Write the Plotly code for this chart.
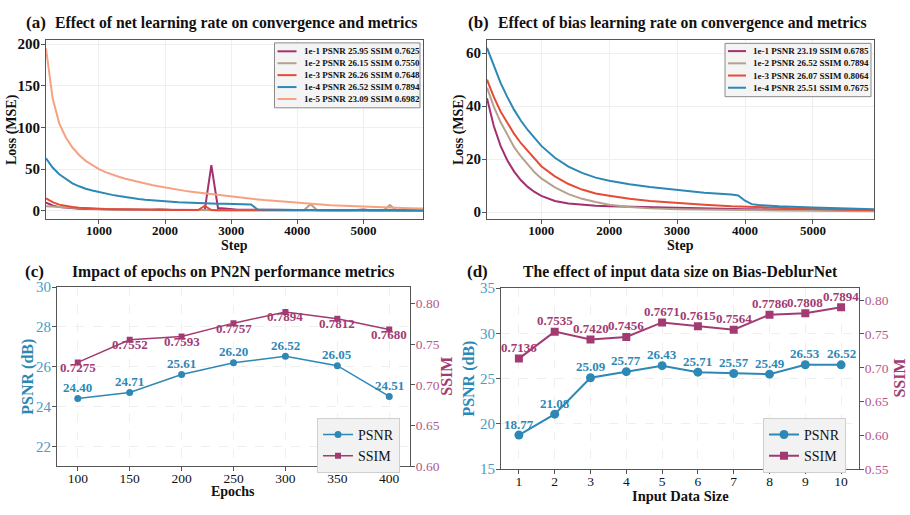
import plotly.graph_objects as go

# ---------------- data ----------------
a_steps = list(range(200, 5901, 100))
a_labels = ["1e-1 PSNR 25.95 SSIM 0.7625", "1e-2 PSNR 26.15 SSIM 0.7550",
            "1e-3 PSNR 26.26 SSIM 0.7648", "1e-4 PSNR 26.52 SSIM 0.7894",
            "1e-5 PSNR 23.09 SSIM 0.6982"]
a_lr1e1 = [10, 6.5, 4.5, 3.6, 3.0, 2.6, 2.3, 2.1, 1.9,
           1.8, 1.7, 1.6, 1.5, 1.5, 1.4, 1.4, 1.3, 1.3, 1.2,
           1.2, 1.2, 1.1, 1.1, 1.1, 1.0, 55, 3.5, 3.0, 2.0,
           1.5, 1.3, 1.2, 1.1, 1.1, 1.0, 1.0, 1.0, 1.0, 0.9,
           0.9, 0.9, 0.9, 0.9, 0.8, 0.8, 0.8, 0.8, 1.2, 1.8,
           0.8, 0.7, 0.7, 0.7, 0.7, 0.6, 0.6, 0.6, 0.6]
a_lr1e2 = [5.5, 5.0, 4.6, 4.2, 3.7, 3.2, 2.7, 2.3, 2.0,
           1.8, 1.6, 1.5, 1.4, 1.3, 1.3, 1.2, 1.2, 2.2, 1.2,
           1.1, 1.1, 1.0, 1.0, 1.0, 0.9, 0.9, 0.9, 0.9, 0.8,
           0.8, 0.8, 0.8, 0.8, 0.7, 0.7, 0.7, 0.7, 0.7, 0.7,
           0.7, 8.0, 0.7, 0.6, 0.6, 0.6, 0.6, 0.6, 0.6, 0.6,
           0.6, 0.5, 0.5, 7.0, 0.5, 0.5, 0.5, 0.5, 0.5]
a_lr1e3 = [15, 10.5, 7.5, 5.8, 4.7, 3.9, 3.3, 2.9, 2.6,
           2.3, 2.1, 1.9, 1.8, 1.7, 1.6, 1.5, 1.4, 1.3, 1.3,
           1.2, 1.2, 1.1, 1.1, 1.0, 6.0, 1.0, 0.9, 0.9, 0.8,
           0.8, 0.8, 0.7, 0.7, 0.7, 0.7, 0.6, 0.6, 0.6, 0.6,
           0.6, 0.5, 0.5, 0.5, 0.5, 0.5, 0.5, 0.5, 0.5, 0.5,
           0.4, 0.4, 0.4, 0.4, 0.4, 0.4, 0.4, 0.4, 0.4]
a_lr1e4 = [63, 52, 44, 38, 33, 29.5, 26.5, 24.5, 22.5,
           20.8, 19.2, 17.8, 16.5, 15.4, 14.4, 13.5, 12.7, 12.0, 11.4,
           10.9, 10.4, 10.0, 9.7, 9.4, 9.1, 8.9, 8.7, 8.5, 8.3,
           8.1, 7.9, 7.7, 1.6, 1.4, 1.3, 1.3, 1.2, 1.2, 1.1,
           1.1, 1.1, 1.0, 1.0, 1.0, 1.0, 0.9, 0.9, 0.9, 0.9,
           0.9, 0.8, 0.8, 0.8, 0.8, 0.8, 0.8, 0.7, 0.7]
a_lr1e5 = [195, 135, 105, 88, 76, 67, 60, 55, 50,
           46.5, 43.5, 41, 38.5, 36.5, 34.5, 32.5, 31, 29.5, 28,
           26.5, 25.2, 24, 23, 22, 21, 20, 19, 18, 17,
           16.2, 15.4, 14.6, 13.8, 13, 12.3, 11.6, 11, 10.3, 9.6,
           9.0, 8.4, 7.9, 7.4, 6.9, 6.5, 6.1, 5.7, 5.3, 5.0,
           4.7, 4.4, 4.1, 3.9, 3.6, 3.4, 3.2, 3.0, 2.8]

b_steps = [200, 300, 400, 500, 600, 700, 800, 900, 1000, 1200, 1400, 1600, 1800,
           2000, 2300, 2600, 3000, 3400, 3800, 3900, 4000, 4100, 4200, 4500, 5000, 5500, 5900]
b_labels = ["1e-1 PSNR 23.19 SSIM 0.6785", "1e-2 PSNR 26.52 SSIM 0.7894",
            "1e-3 PSNR 26.07 SSIM 0.8064", "1e-4 PSNR 25.51 SSIM 0.7675"]
b_lr1e1 = [43, 32.5, 25, 19.5, 15.3, 12, 9.5, 7.6, 6.1, 4.2, 3.2, 2.7, 2.4,
           2.2, 2.0, 1.8, 1.6, 1.4, 1.2, 1.2, 1.1, 1.1, 1.0, 0.9, 0.8, 0.6, 0.5]
b_lr1e2 = [47, 39.8, 34, 29, 24.5, 21, 17.8, 15, 12.7, 9.3, 6.8, 5.0, 3.8,
           2.8, 1.9, 1.4, 1.1, 0.9, 0.8, 0.75, 0.7, 0.7, 0.65, 0.6, 0.5, 0.4, 0.35]
b_lr1e3 = [50, 43.5, 38, 33.5, 29.5, 26, 23, 20, 17.3, 13.5, 10.6, 8.5, 7.0,
           6.2, 5.0, 4.2, 3.4, 2.8, 2.2, 2.1, 2.0, 1.9, 1.8, 1.5, 1.2, 0.9, 0.8]
b_lr1e4 = [62, 55.5, 48.8, 43.4, 38.6, 34.5, 31, 28, 25, 20.5, 17.2, 14.8, 13,
           11.8, 10.5, 9.5, 8.3, 7.3, 6.6, 6.3, 4.3, 3.0, 2.7, 2.2, 1.7, 1.3, 1.1]

c_epochs = [100, 150, 200, 250, 300, 350, 400]
c_psnr = [24.40, 24.71, 25.61, 26.20, 26.52, 26.05, 24.51]
c_ssim = [0.7275, 0.7552, 0.7593, 0.7757, 0.7894, 0.7812, 0.7680]

d_size = [1, 2, 3, 4, 5, 6, 7, 8, 9, 10]
d_psnr = [18.77, 21.08, 25.09, 25.77, 26.43, 25.71, 25.57, 25.49, 26.53, 26.52]
d_ssim = [0.7136, 0.7535, 0.7420, 0.7456, 0.7671, 0.7615, 0.7564, 0.7786, 0.7808, 0.7894]

# ---------------- style ----------------
W, H = 910, 515
FONT = "Liberation Serif"
loss_colors = ["#A3306F", "#B5A18C", "#E64B35", "#2C88B5", "#F6A282"]
PSNR_C = "#2E88B5"
SSIM_C = "#A23B72"
PSNR_TICK = "#4C9BC5"
SSIM_TICK = "#B5578A"
AX = "#555555"
GRID = "#EFEFEF"


def px(x):
    return x / W


def py(y):
    return (H - y) / H


fig = go.Figure()

# panel a
for lab, ys, col in zip(a_labels, [a_lr1e1, a_lr1e2, a_lr1e3, a_lr1e4, a_lr1e5], loss_colors):
    fig.add_trace(go.Scatter(x=a_steps, y=ys, mode="lines", name=lab, showlegend=False,
                             line=dict(color=col, width=2), xaxis="x", yaxis="y"))
# panel b
for lab, ys, col in zip(b_labels, [b_lr1e1, b_lr1e2, b_lr1e3, b_lr1e4], loss_colors):
    fig.add_trace(go.Scatter(x=b_steps, y=ys, mode="lines", name=lab, showlegend=False,
                             line=dict(color=col, width=2), xaxis="x2", yaxis="y2"))
# panel c
fig.add_trace(go.Scatter(x=c_epochs, y=c_psnr, mode="lines+markers", name="PSNR",
                         line=dict(color=PSNR_C, width=1.5), marker=dict(symbol="circle", size=7),
                         xaxis="x3", yaxis="y3", legend="legend"))
fig.add_trace(go.Scatter(x=c_epochs, y=c_ssim, mode="lines+markers", name="SSIM",
                         line=dict(color=SSIM_C, width=1.5), marker=dict(symbol="square", size=6),
                         xaxis="x3", yaxis="y5", legend="legend"))
# panel d
fig.add_trace(go.Scatter(x=d_size, y=d_psnr, mode="lines+markers", name="PSNR",
                         line=dict(color=PSNR_C, width=2), marker=dict(symbol="circle", size=9),
                         xaxis="x4", yaxis="y4", legend="legend2"))
fig.add_trace(go.Scatter(x=d_size, y=d_ssim, mode="lines+markers", name="SSIM",
                         line=dict(color=SSIM_C, width=2), marker=dict(symbol="square", size=8),
                         xaxis="x4", yaxis="y6", legend="legend2"))

xtickbold = dict(family=FONT, size=13, color="#111111", weight="bold")
ytickbold = dict(family=FONT, size=15, color="#111111", weight="bold")
xtickreg = dict(family=FONT, size=13.5, color="#111111")
common = dict(showline=True, linecolor=AX, linewidth=1.2, mirror=True, ticks="outside",
              ticklen=4, tickcolor=AX, gridcolor=GRID, gridwidth=1, zeroline=False)
XSO = -5
YSO = -2

annotations = []
shapes = []

layout_axes = dict(
    xaxis=dict(domain=[px(46), px(423)], range=[200, 5900], tickvals=[1000, 2000, 3000, 4000, 5000],
               anchor="y", tickfont=xtickbold, ticklabelstandoff=XSO, **common),
    yaxis=dict(domain=[py(218), py(33)], range=[-10, 205], tickvals=[0, 50, 100, 150, 200],
               anchor="x", tickfont=ytickbold, ticklabelstandoff=YSO, **common),
    xaxis2=dict(domain=[px(487), px(874)], range=[200, 5900], tickvals=[1000, 2000, 3000, 4000, 5000],
                anchor="y2", tickfont=xtickbold, ticklabelstandoff=XSO, **common),
    yaxis2=dict(domain=[py(218), py(33)], range=[-2.7, 65], tickvals=[0, 20, 40, 60],
                anchor="x2", tickfont=ytickbold, ticklabelstandoff=YSO, **common),
    xaxis3=dict(domain=[px(57), px(410)], range=[80, 420], tickvals=c_epochs, anchor="y3",
                tickfont=xtickreg, griddash="dash", ticklabelstandoff=XSO, **common),
    yaxis3=dict(domain=[py(473), py(288)], range=[21, 30], tickvals=[22, 24, 26, 28, 30], anchor="x3",
                tickfont=dict(family=FONT, size=15, color=PSNR_TICK), griddash="dash", ticklabelstandoff=YSO,
                **common),
    yaxis5=dict(overlaying="y3", side="right", anchor="x3", range=[0.60, 0.82],
                tickvals=[0.60, 0.65, 0.70, 0.75, 0.80], tickformat=".2f",
                tickfont=dict(family=FONT, size=13.5, color=SSIM_TICK), showgrid=False, ticklabelstandoff=YSO,
                showline=True, linecolor=AX, linewidth=1.2, ticks="outside", ticklen=4, tickcolor=AX,
                zeroline=False),
    xaxis4=dict(domain=[px(501), px(859)], range=[0.5, 10.5], tickvals=d_size, anchor="y4",
                tickfont=xtickreg, griddash="dash", ticklabelstandoff=XSO, **common),
    yaxis4=dict(domain=[py(476), py(289)], range=[15, 35], tickvals=[15, 20, 25, 30, 35], anchor="x4",
                tickfont=dict(family=FONT, size=15, color=PSNR_TICK), griddash="dash", ticklabelstandoff=YSO,
                **common),
    yaxis6=dict(overlaying="y4", side="right", anchor="x4", range=[0.55, 0.818],
                tickvals=[0.55, 0.60, 0.65, 0.70, 0.75, 0.80], tickformat=".2f",
                tickfont=dict(family=FONT, size=13.5, color=SSIM_TICK), showgrid=False, ticklabelstandoff=YSO,
                showline=True, linecolor=AX, linewidth=1.2, ticks="outside", ticklen=4, tickcolor=AX,
                zeroline=False),
)


def label(text, x, y, size, color="#111111", angle=0, anchor="center"):
    annotations.append(dict(text="<b>%s</b>" % text, x=px(x), y=py(y), xref="paper", yref="paper",
                            xanchor=anchor, yanchor="middle", showarrow=False, textangle=angle,
                            font=dict(family=FONT, size=size, color=color)))


# ---- titles ----
def title(tag, text, xtag, xt, y, center=False):
    label(tag, xtag, y, 17, anchor="left")
    label(text, xt, y, 15.7, anchor="center" if center else "left")


title("(a)", "Effect of net learning rate on convergence and metrics", 24, 53, 15)
title("(b)", "Effect of bias learning rate on convergence and metrics", 466, 495.5, 15)
title("(c)", "Impact of epochs on PN2N performance metrics", 23, 233.5, 272, center=True)
title("(d)", "The effect of input data size on Bias-DeblurNet", 465.5, 680, 272, center=True)

# ---- axis titles ----
label("Step", 234.5, 245, 14)
label("Step", 680.5, 245, 14)
label("Loss (MSE)", 12, 126, 14, angle=-90)
label("Loss (MSE)", 459, 126, 14, angle=-90)
label("Epochs", 233.5, 499, 14)
label("Input Data Size", 680, 503.5, 14.5)
label("PSNR (dB)", 28, 380.5, 16, PSNR_C, angle=-90)
label("SSIM", 447, 380.5, 16, SSIM_C, angle=-90)
label("PSNR (dB)", 469, 382.5, 16, PSNR_C, angle=-90)
label("SSIM", 900, 382.5, 16, SSIM_C, angle=-90)


# ---- custom legends for a / b ----
def loss_legend(labels, colors, bx0, bx1, by0, by1, lx0, lx1, tx, ry0, dy):
    shapes.append(dict(type="rect", xref="paper", yref="paper", x0=px(bx0), x1=px(bx1),
                       y0=py(by1), y1=py(by0), fillcolor="rgba(243,243,243,0.92)",
                       line=dict(color="#8A8A8A", width=1)))
    for i, (lab, col) in enumerate(zip(labels, colors)):
        yy = ry0 + i * dy
        shapes.append(dict(type="line", xref="paper", yref="paper", x0=px(lx0), x1=px(lx1),
                           y0=py(yy), y1=py(yy), line=dict(color=col, width=2)))
        annotations.append(dict(text="<b>%s</b>" % lab, x=px(tx), y=py(yy), xref="paper", yref="paper",
                                xanchor="left", yanchor="middle", showarrow=False,
                                font=dict(family=FONT, size=9, color="#111111")))


loss_legend(a_labels, loss_colors, 274.5, 420, 36, 103, 277.5, 296.5, 302, 44.7, 12.3)
loss_legend(b_labels, loss_colors[:4], 725, 871, 36.5, 91.5, 728, 746, 751, 44.5, 12.6)

# ---- value labels ----
for x, v in zip(c_epochs, c_psnr):
    annotations.append(dict(text="<b>%.2f</b>" % v, x=x, y=v, xref="x3", yref="y3", showarrow=False,
                            yanchor="middle", yshift=11, font=dict(family=FONT, size=13, color=PSNR_C)))
for x, v in zip(c_epochs, c_ssim):
    annotations.append(dict(text="<b>%.4f</b>" % v, x=x, y=v, xref="x3", yref="y5", showarrow=False,
                            yanchor="middle", yshift=-5, font=dict(family=FONT, size=13, color=SSIM_C)))
for x, v in zip(d_size, d_psnr):
    annotations.append(dict(text="<b>%.2f</b>" % v, x=x, y=v, xref="x4", yref="y4", showarrow=False,
                            yanchor="middle", yshift=11, font=dict(family=FONT, size=13, color=PSNR_C)))
for x, v in zip(d_size, d_ssim):
    annotations.append(dict(text="<b>%.4f</b>" % v, x=x, y=v, xref="x4", yref="y6", showarrow=False,
                            yanchor="middle", yshift=11, font=dict(family=FONT, size=13, color=SSIM_C)))

legend_style = dict(bgcolor="#F2F2F2", bordercolor="#CFCFCF", borderwidth=1,
                    font=dict(family=FONT, size=14, color="#111111"), xanchor="left", yanchor="top",
                    tracegroupgap=0)

fig.update_layout(
    width=W, height=H, margin=dict(l=0, r=0, t=0, b=0),
    paper_bgcolor="white", plot_bgcolor="white",
    font=dict(family=FONT, size=14, color="#111111"),
    legend=dict(x=px(317), y=py(423), **legend_style),
    legend2=dict(x=px(763), y=py(423), **legend_style),
    annotations=annotations, shapes=shapes,
    **layout_axes,
)

fig.write_html("out.html")
